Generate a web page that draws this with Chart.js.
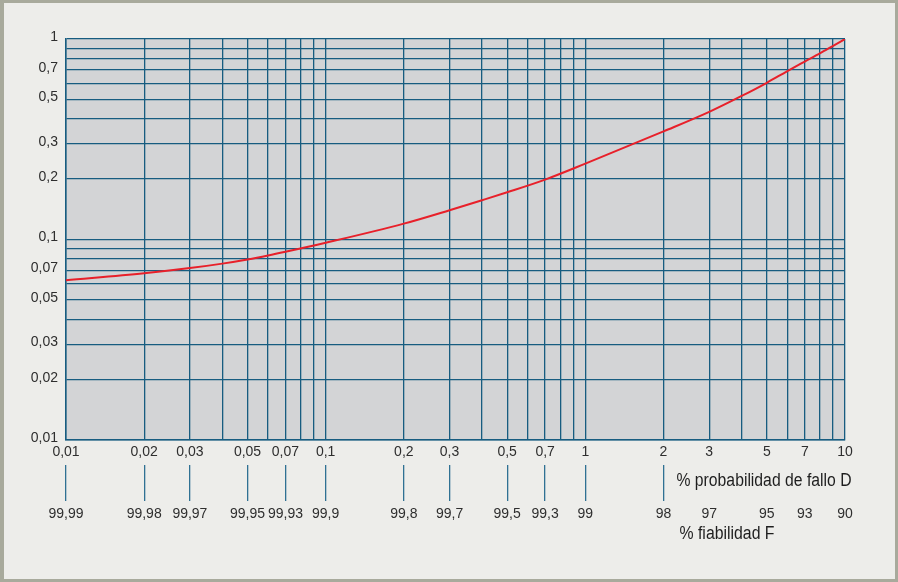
<!DOCTYPE html>
<html>
<head>
<meta charset="utf-8">
<script src="https://cdn.jsdelivr.net/npm/chart.js@4.4.1/dist/chart.umd.min.js"></script>
<style>
  html, body { margin: 0; padding: 0; }
  body { width: 898px; height: 582px; position: relative; overflow: hidden; }
  #frame { position: absolute; left: 0; top: 0; width: 898px; height: 582px; box-sizing: border-box;
           border: 3px solid #a8aa9c; border-left-width: 4px; background: #ededea; }
  #wrap { position: absolute; left: 0; top: 0; width: 898px; height: 582px; }
</style>
</head>
<body>
<div id="frame"></div>
<div id="wrap"><canvas id="c" width="898" height="582"></canvas></div>
<script>
// ---- data ----
const failureX = [0.01,0.02,0.03,0.04,0.05,0.06,0.07,0.1,0.2,0.3,0.4,0.5,0.7,1,2,3,4,5,6,7,8,9,10];
const curveY   = [0.0626,0.0678,0.0720,0.0758,0.0795,0.0832,0.0868,0.0963,0.120,0.140,0.157,0.172,0.199,0.239,0.346,0.433,0.520,0.605,0.692,0.772,0.848,0.925,1.0];

const xLabelValues = [0.01,0.02,0.03,0.05,0.07,0.1,0.2,0.3,0.5,0.7,1,2,3,5,7,10];
const xLabels      = ['0,01','0,02','0,03','0,05','0,07','0,1','0,2','0,3','0,5','0,7','1','2','3','5','7','10'];
const reliabilityLabels = ['99,99','99,98','99,97','99,95','99,93','99,9','99,8','99,7','99,5','99,3','99','98','97','95','93','90'];
const reliabilityTickMax = 2;

const yLabelValues = [0.01,0.02,0.03,0.05,0.07,0.1,0.2,0.3,0.5,0.7,1];
const yLabels      = ['0,01','0,02','0,03','0,05','0,07','0,1','0,2','0,3','0,5','0,7','1'];

const titleD = '% probabilidad de fallo D';
const titleF = '% fiabilidad F';

// ---- helpers ----
function decadeTicks(min, max) {
  const out = [];
  for (let e = Math.round(Math.log10(min)); e < Math.round(Math.log10(max)); e++) {
    for (let m = 1; m <= 9; m++) out.push(+(m * Math.pow(10, e)).toPrecision(3));
  }
  out.push(max);
  return out;
}
function labelFor(values, labels, v) {
  const i = values.findIndex(t => Math.abs(t - v) / t < 1e-6);
  return i >= 0 ? labels[i] : '';
}

const GRID = '#175c80';
const TEXT = '#2e2e2e';
const FONT = '"Liberation Sans", Arial, sans-serif';

const bgPlugin = {
  id: 'bg',
  beforeDraw(chart) {
    const { ctx, chartArea: a } = chart;
    ctx.save();
    ctx.fillStyle = '#d3d4d6';
    ctx.fillRect(a.left, a.top, a.right - a.left, a.bottom - a.top);
    ctx.restore();
  },
  afterDraw(chart) {
    const { ctx } = chart;
    const xs = chart.scales.x, x2 = chart.scales.x2;
    const left = xs.getPixelForValue(2) + 13;
    ctx.save();
    ctx.fillStyle = '#1e1e1e';
    ctx.textBaseline = 'middle';
    ctx.textAlign = 'left';
    ctx.font = '18px ' + FONT;
    const w1 = ctx.measureText(titleD).width;
    ctx.save();
    ctx.translate(left, x2.top + 16);
    ctx.scale(175 / w1, 1);
    ctx.fillText(titleD, 0, 0);
    ctx.restore();
    const w2 = ctx.measureText(titleF).width;
    ctx.save();
    ctx.translate(left + 3, x2.top + 69);
    ctx.scale(95 / w2, 1);
    ctx.fillText(titleF, 0, 0);
    ctx.restore();
    ctx.restore();
  }
};

new Chart(document.getElementById('c'), {
  type: 'line',
  data: {
    datasets: [{
      data: failureX.map((x, i) => ({ x, y: curveY[i] })),
      borderColor: '#e8202a',
      borderWidth: 2,
      pointRadius: 0,
      cubicInterpolationMode: 'monotone',
      fill: false
    }]
  },
  options: {
    responsive: false,
    animation: false,
    devicePixelRatio: 1,
    layout: { padding: { left: 0, top: 39, right: 53, bottom: 0 } },
    plugins: { legend: { display: false }, tooltip: { enabled: false } },
    scales: {
      x: {
        type: 'logarithmic', position: 'bottom', weight: 0,
        min: 0.01, max: 10,
        afterBuildTicks: s => { s.ticks = decadeTicks(0.01, 10).map(v => ({ value: v })); },
        afterFit: s => { s.height = 25; },
        grid: { color: GRID, lineWidth: 1.3, drawTicks: false },
        border: { color: GRID, width: 1.5 },
        ticks: {
          autoSkip: false, maxRotation: 0, padding: 4,
          color: TEXT, font: { size: 14, family: FONT },
          callback: v => labelFor(xLabelValues, xLabels, v)
        }
      },
      x2: {
        type: 'logarithmic', position: 'bottom', weight: 1,
        min: 0.01, max: 10,
        afterBuildTicks: s => { s.ticks = xLabelValues.map(v => ({ value: v })); },
        afterFit: s => { s.height = 117; },
        grid: {
          drawOnChartArea: false, drawTicks: true, tickLength: 36, lineWidth: 1.3,
          color: c => (c.tick && c.tick.value <= reliabilityTickMax) ? '#2f7193' : 'rgba(0,0,0,0)'
        },
        border: { display: false },
        ticks: {
          autoSkip: false, maxRotation: 0, padding: 5,
          color: TEXT, font: { size: 14, family: FONT },
          callback: v => labelFor(xLabelValues, reliabilityLabels, v)
        }
      },
      y: {
        type: 'logarithmic', position: 'left',
        min: 0.01, max: 1,
        afterBuildTicks: s => { s.ticks = decadeTicks(0.01, 1).map(v => ({ value: v })); },
        afterFit: s => { s.width = 66; },
        grid: { color: GRID, lineWidth: 1.3, drawTicks: false },
        border: { color: GRID, width: 1.5 },
        ticks: {
          autoSkip: false, padding: 8, labelOffset: -2,
          color: TEXT, font: { size: 14, family: FONT },
          callback: v => labelFor(yLabelValues, yLabels, v)
        }
      }
    }
  },
  plugins: [bgPlugin]
});
</script>
</body>
</html>
